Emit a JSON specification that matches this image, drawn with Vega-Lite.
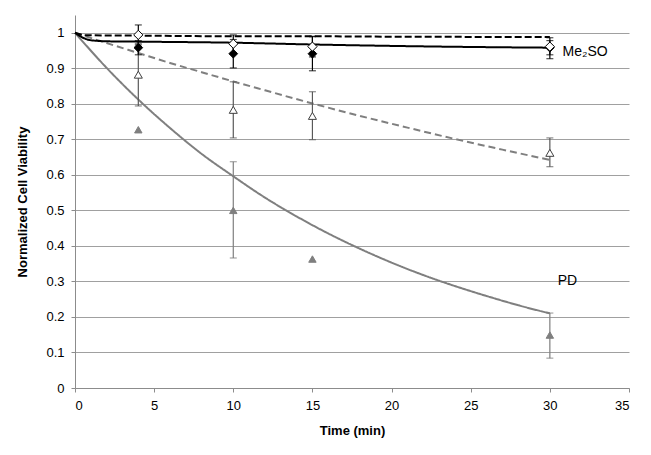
{
  "$schema": "https://vega.github.io/schema/vega-lite/v6.json",
  "width": 554,
  "height": 373,
  "autosize": {"type": "none"},
  "padding": {"left": 75, "top": 15, "right": 22, "bottom": 67},
  "background": "white",
  "config": {
    "font": "Liberation Sans",
    "view": {"stroke": null},
    "axis": {
      "labelFont": "Liberation Sans",
      "titleFont": "Liberation Sans",
      "labelFontSize": 13,
      "titleFontSize": 13,
      "titleFontWeight": "bold",
      "labelColor": "black",
      "titleColor": "black",
      "domainColor": "#8c8c8c",
      "tickColor": "#8c8c8c",
      "gridColor": "#a0a0a0",
      "tickSize": 4,
      "labelPadding": 7
    }
  },
  "datasets": {
    "fits": [
      {"t": 0, "v": 1, "s": "D"}, {"t": 2, "v": 0.901, "s": "D"}, {"t": 4, "v": 0.812, "s": "D"}, {"t": 6, "v": 0.732, "s": "D"}, {"t": 8, "v": 0.659, "s": "D"}, {"t": 10, "v": 0.596, "s": "D"}, {"t": 12, "v": 0.536, "s": "D"}, {"t": 14, "v": 0.483, "s": "D"}, {"t": 16, "v": 0.435, "s": "D"}, {"t": 18, "v": 0.392, "s": "D"}, {"t": 20, "v": 0.353, "s": "D"}, {"t": 22, "v": 0.318, "s": "D"}, {"t": 24, "v": 0.287, "s": "D"}, {"t": 26, "v": 0.259, "s": "D"}, {"t": 28, "v": 0.233, "s": "D"}, {"t": 30, "v": 0.21, "s": "D"},
      {"t": 0, "v": 1, "s": "C"}, {"t": 2, "v": 0.971, "s": "C"}, {"t": 4, "v": 0.943, "s": "C"}, {"t": 6, "v": 0.915, "s": "C"}, {"t": 8, "v": 0.889, "s": "C"}, {"t": 10, "v": 0.863, "s": "C"}, {"t": 12, "v": 0.838, "s": "C"}, {"t": 15, "v": 0.801, "s": "C"}, {"t": 18, "v": 0.766, "s": "C"}, {"t": 21, "v": 0.733, "s": "C"}, {"t": 24, "v": 0.701, "s": "C"}, {"t": 27, "v": 0.671, "s": "C"}, {"t": 30, "v": 0.642, "s": "C"},
      {"t": 0, "v": 1, "s": "B"}, {"t": 0.5, "v": 0.986, "s": "B"}, {"t": 1, "v": 0.979, "s": "B"}, {"t": 2, "v": 0.976, "s": "B"}, {"t": 4, "v": 0.975, "s": "B"}, {"t": 10, "v": 0.972, "s": "B"}, {"t": 15, "v": 0.967, "s": "B"}, {"t": 20, "v": 0.963, "s": "B"}, {"t": 25, "v": 0.96, "s": "B"}, {"t": 30, "v": 0.958, "s": "B"},
      {"t": 0, "v": 1, "s": "A"}, {"t": 0.7, "v": 0.993, "s": "A"}, {"t": 4, "v": 0.992, "s": "A"}, {"t": 10, "v": 0.99, "s": "A"}, {"t": 15, "v": 0.99, "s": "A"}, {"t": 20, "v": 0.989, "s": "A"}, {"t": 30, "v": 0.988, "s": "A"}
    ],
    "pts": [
      {"t": 4, "v": 0.727, "lo": null, "hi": null, "g": "ftri"},
      {"t": 10, "v": 0.5, "lo": 0.366, "hi": 0.637, "g": "ftri"},
      {"t": 15, "v": 0.363, "lo": null, "hi": null, "g": "ftri"},
      {"t": 30, "v": 0.149, "lo": 0.084, "hi": 0.211, "g": "ftri"},
      {"t": 4, "v": 0.882, "lo": 0.794, "hi": 0.97, "g": "otri"},
      {"t": 10, "v": 0.783, "lo": 0.704, "hi": 0.862, "g": "otri"},
      {"t": 15, "v": 0.766, "lo": 0.699, "hi": 0.834, "g": "otri"},
      {"t": 30, "v": 0.662, "lo": 0.623, "hi": 0.704, "g": "otri"},
      {"t": 4, "v": 0.958, "lo": 0.938, "hi": 0.978, "g": "fdia"},
      {"t": 10, "v": 0.941, "lo": 0.901, "hi": 0.981, "g": "fdia"},
      {"t": 15, "v": 0.941, "lo": 0.893, "hi": 0.989, "g": "fdia"},
      {"t": 30, "v": 0.958, "lo": 0.938, "hi": 0.978, "g": "fdia"},
      {"t": 4, "v": 0.994, "lo": 0.966, "hi": 1.022, "g": "odia"},
      {"t": 10, "v": 0.969, "lo": 0.944, "hi": 0.994, "g": "odia"},
      {"t": 15, "v": 0.961, "lo": 0.932, "hi": 0.99, "g": "odia"},
      {"t": 30, "v": 0.961, "lo": 0.927, "hi": 0.986, "g": "odia"}
    ],
    "labels": [
      {"t": 30.8, "v": 0.946, "txt": "Me₂SO"},
      {"t": 30.5, "v": 0.3, "txt": "PD"}
    ]
  },
  "resolve": {"scale": {"color": "independent", "stroke": "independent", "fill": "independent", "shape": "independent", "size": "independent", "strokeDash": "independent", "strokeWidth": "independent"}},
  "encoding": {
    "x": {"field": "t", "type": "quantitative", "scale": {"domain": [0, 35], "nice": false},
      "axis": {"values": [0, 5, 10, 15, 20, 25, 30, 35], "grid": false, "title": "Time (min)", "titlePadding": 12}},
    "y": {"field": "v", "type": "quantitative", "scale": {"domain": [0, 1.05], "nice": false},
      "axis": {"values": [0, 0.1, 0.2, 0.3, 0.4, 0.5, 0.6, 0.7, 0.8, 0.9, 1], "format": ".1~f", "grid": true, "title": "Normalized Cell Viability", "titlePadding": 16}}
  },
  "layer": [
    {
      "data": {"name": "fits"},
      "mark": {"type": "line", "interpolate": "monotone"},
      "encoding": {
        "color": {"field": "s", "type": "nominal", "legend": null, "scale": {"domain": ["D", "C", "B", "A"], "range": ["#7f7f7f", "#7f7f7f", "black", "black"]}},
        "strokeDash": {"field": "s", "type": "nominal", "legend": null, "scale": {"domain": ["D", "C", "B", "A"], "range": [[1, 0], [7, 4], [1, 0], [7, 3]]}},
        "strokeWidth": {"field": "s", "type": "nominal", "legend": null, "scale": {"domain": ["D", "C", "B", "A"], "range": [2, 2, 2.5, 2]}},
        "order": {"field": "t", "type": "quantitative"}
      }
    },
    {
      "data": {"name": "pts"},
      "mark": {"type": "rule", "strokeWidth": 1.2},
      "encoding": {
        "y": {"field": "lo", "type": "quantitative"},
        "y2": {"field": "hi"},
        "color": {"field": "g", "type": "nominal", "legend": null, "scale": {"domain": ["ftri", "otri", "fdia", "odia"], "range": ["#7f7f7f", "#595959", "black", "black"]}}
      }
    },
    {
      "data": {"name": "pts"},
      "mark": {"type": "tick", "orient": "horizontal", "size": 7, "thickness": 1.2},
      "encoding": {
        "y": {"field": "lo", "type": "quantitative"},
        "color": {"field": "g", "type": "nominal", "legend": null, "scale": {"domain": ["ftri", "otri", "fdia", "odia"], "range": ["#7f7f7f", "#595959", "black", "black"]}}
      }
    },
    {
      "data": {"name": "pts"},
      "mark": {"type": "tick", "orient": "horizontal", "size": 7, "thickness": 1.2},
      "encoding": {
        "y": {"field": "hi", "type": "quantitative"},
        "color": {"field": "g", "type": "nominal", "legend": null, "scale": {"domain": ["ftri", "otri", "fdia", "odia"], "range": ["#7f7f7f", "#595959", "black", "black"]}}
      }
    },
    {
      "data": {"name": "pts"},
      "mark": {"type": "point", "filled": true, "strokeWidth": 1, "opacity": 1},
      "encoding": {
        "shape": {"field": "g", "type": "nominal", "legend": null, "scale": {"domain": ["ftri", "otri", "fdia", "odia"], "range": ["triangle-up", "triangle-up", "diamond", "diamond"]}},
        "fill": {"field": "g", "type": "nominal", "legend": null, "scale": {"domain": ["ftri", "otri", "fdia", "odia"], "range": ["#7f7f7f", "white", "black", "white"]}},
        "stroke": {"field": "g", "type": "nominal", "legend": null, "scale": {"domain": ["ftri", "otri", "fdia", "odia"], "range": ["#7f7f7f", "#404040", "black", "black"]}},
        "size": {"field": "g", "type": "nominal", "legend": null, "scale": {"domain": ["ftri", "otri", "fdia", "odia"], "range": [55, 85, 50, 70]}}
      }
    },
    {
      "data": {"name": "labels"},
      "mark": {"type": "text", "align": "left", "baseline": "middle", "fontSize": 14, "font": "Liberation Sans", "color": "black"},
      "encoding": {
        "text": {"field": "txt", "type": "nominal"}
      }
    }
  ]
}
